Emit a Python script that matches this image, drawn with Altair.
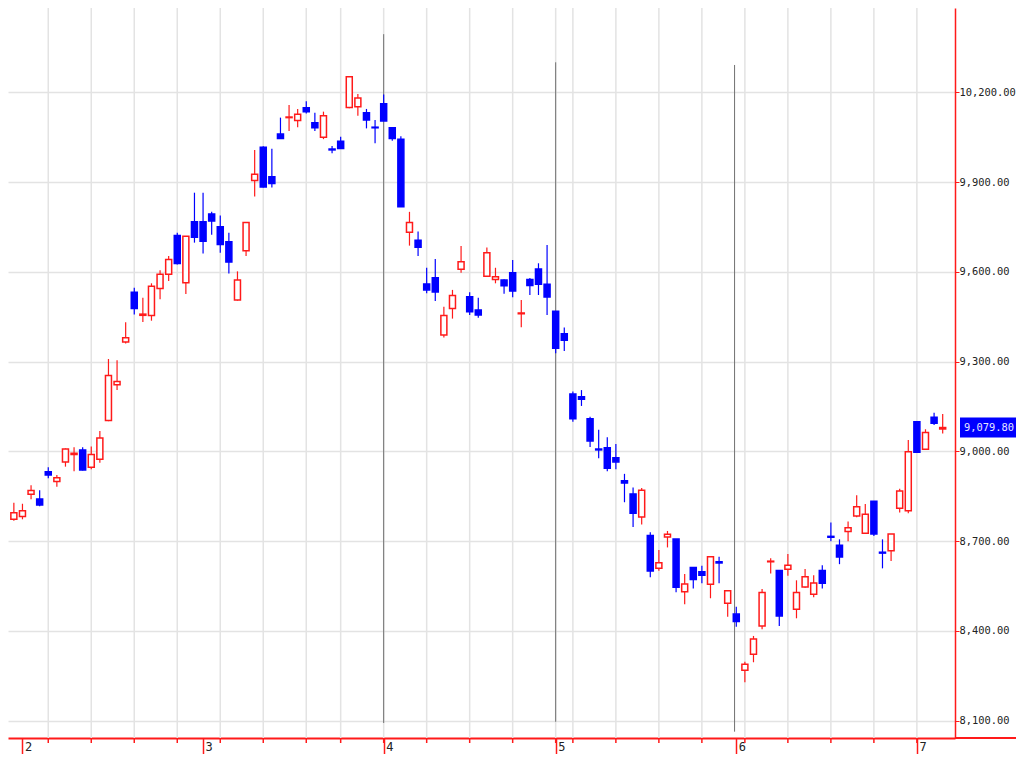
import altair as alt
import pandas as pd

# Daily OHLC values (trading-day index 0 .. 108)
opens = [8773, 8782, 8857, 8841, 8932, 8899, 8965, 8990, 9005, 8947,
         8974, 9103, 9223, 9366, 9532, 9455, 9454, 9545, 9592, 9722,
         9564, 9768, 9768, 9794, 9751, 9701, 9506, 9671, 9906, 10017,
         9918, 10061, 10116, 10106, 10149, 10099, 10050, 10011, 10037, 10150,
         10152, 10132, 10084, 10162, 10082, 10044, 9733, 9706, 9560, 9581,
         9389, 9478, 9609, 9517, 9473, 9586, 9575, 9573, 9597, 9460,
         9575, 9610, 9559, 9469, 9393, 9192, 9183, 9109, 9008, 9012,
         8979, 8902, 8858, 8781, 8719, 8609, 8714, 8707, 8531, 8612,
         8598, 8556, 8631, 8492, 8456, 8268, 8322, 8416, 8631, 8602,
         8606, 8472, 8547, 8522, 8602, 8716, 8686, 8732, 8784, 8726,
         8833, 8663, 8668, 8810, 8802, 9099, 9007, 9114, 9075]
highs = [8828, 8825, 8887, 8870, 8947, 8921, 9010, 9014, 9014, 9016,
         9068, 9309, 9305, 9432, 9547, 9514, 9562, 9606, 9653, 9731,
         9719, 9865, 9865, 9801, 9789, 9731, 9602, 9765, 10008, 10020,
         10012, 10116, 10158, 10145, 10171, 10132, 10136, 10021, 10052, 10253,
         10195, 10145, 10108, 10193, 10084, 10054, 9801, 9735, 9614, 9643,
         9484, 9540, 9687, 9532, 9514, 9682, 9614, 9576, 9640, 9506,
         9580, 9629, 9690, 9469, 9414, 9200, 9205, 9116, 9072, 9047,
         9025, 8925, 8879, 8878, 8730, 8670, 8734, 8707, 8590, 8612,
         8618, 8648, 8648, 8534, 8481, 8297, 8383, 8540, 8643, 8602,
         8657, 8569, 8607, 8586, 8619, 8762, 8706, 8766, 8853, 8824,
         8833, 8706, 8724, 8875, 9038, 9099, 9074, 9129, 9125]
lows = [8768, 8773, 8840, 8817, 8910, 8882, 8949, 8934, 8936, 8940,
        8962, 9101, 9205, 9361, 9458, 9433, 9437, 9509, 9570, 9625,
        9526, 9698, 9662, 9724, 9664, 9595, 9504, 9653, 9852, 9882,
        9882, 10046, 10071, 10084, 10130, 10071, 10044, 9997, 10013, 10147,
        10122, 10080, 10030, 10105, 10039, 9818, 9688, 9653, 9529, 9503,
        9381, 9444, 9597, 9456, 9447, 9586, 9562, 9527, 9515, 9415,
        9523, 9523, 9456, 9328, 9336, 9099, 9152, 9015, 8977, 8934,
        8940, 8830, 8747, 8756, 8579, 8601, 8679, 8529, 8489, 8542,
        8559, 8509, 8559, 8447, 8414, 8228, 8295, 8405, 8592, 8416,
        8584, 8442, 8544, 8512, 8542, 8700, 8623, 8700, 8780, 8724,
        8717, 8609, 8634, 8796, 8793, 8997, 9007, 9088, 9060]
closes = [8795, 8802, 8869, 8821, 8921, 8912, 9008, 8994, 8938, 8990,
          9045, 9254, 9234, 9380, 9478, 9459, 9552, 9592, 9642, 9628,
          9719, 9716, 9703, 9770, 9692, 9633, 9573, 9765, 9927, 9884,
          9896, 10046, 10118, 10127, 10136, 10082, 10122, 10008, 10013, 10253,
          10182, 10108, 10082, 10105, 10046, 9818, 9765, 9683, 9540, 9533,
          9454, 9521, 9634, 9467, 9456, 9664, 9584, 9554, 9536, 9463,
          9555, 9559, 9516, 9345, 9372, 9109, 9174, 9035, 9005, 8944,
          8965, 8894, 8793, 8870, 8600, 8628, 8723, 8546, 8557, 8572,
          8586, 8648, 8627, 8534, 8431, 8288, 8373, 8528, 8633, 8450,
          8619, 8528, 8581, 8560, 8559, 8713, 8647, 8745, 8815, 8790,
          8724, 8660, 8724, 8868, 8999, 8997, 9063, 9094, 9079.8]

# first trading day of each week (vertical grid lines / minor ticks)
week_idx = [4, 9, 14, 19, 24, 29, 34, 38, 43, 48, 53, 58, 63, 65, 70,
            75, 80, 85, 90, 95, 100, 105]
# first trading day of each month and its label
month_idx = [1, 22, 43, 63, 84, 105]
month_labels = ["2", "3", "4", "5", "6", "7"]
# dark vertical marker lines
event_idx = [43, 63, 83.8]
event_top = [10395, 10301, 10292]
event_bottom = [8092, 8096, 8063]
# price axis values
y_ticks = [8100, 8400, 8700, 9000, 9300, 9600, 9900, 10200]

W, H = 947, 730
MONO = "DejaVu Sans Mono"
RED = "#ff1a1a"
BLUE = "#0000ff"

df = pd.DataFrame({"i": list(range(len(opens))), "open": opens, "high": highs,
                   "low": lows, "close": closes})
df["dir"] = ["up" if c >= o else "down" for o, c in zip(opens, closes)]

weeks = pd.DataFrame({"i": week_idx})
events = pd.DataFrame({"i": event_idx, "top": event_top, "bottom": event_bottom})
last = pd.DataFrame({"v": [closes[-1]]})

label_expr = " : ".join(
    f"datum.value == {m} ? '{l}'" for m, l in zip(month_idx, month_labels)
) + " : ''"

xscale = alt.Scale(domain=[-0.1, 108.85], nice=False, zero=False)
yscale = alt.Scale(domain=[8041.8, 10482.5], nice=False, zero=False)

xaxis = alt.Axis(values=month_idx, labelExpr=label_expr, title=None, grid=False,
                 domainColor=RED, domainWidth=2, tickColor=RED, tickWidth=1.5,
                 tickSize=16, labelAlign="left", labelBaseline="top",
                 labelPadding=-13, labelOffset=2, labelFont=MONO, labelFontSize=12,
                 labelColor="#222222", labelFlush=False, labelOverlap=False)
yaxis = alt.Axis(orient="right", values=y_ticks, format=",.2f", title=None,
                 grid=True, gridColor="#e3e3e3", gridWidth=1.5,
                 domainColor=RED, domainWidth=1.5, tickColor=RED, tickSize=4,
                 labelPadding=0, labelFont=MONO, labelFontSize=10.4,
                 labelColor="#222222", labelFlush=False, labelOverlap=False)

dir_color = alt.Scale(domain=["up", "down"], range=[RED, BLUE])
dir_fill = alt.Scale(domain=["up", "down"], range=["#ffffff", BLUE])

base = alt.Chart(df)

grid_v = alt.Chart(weeks).mark_rule(color="#e3e3e3", strokeWidth=1.5, clip=True).encode(
    x=alt.X("i:Q", scale=xscale, axis=xaxis)
)

minor_ticks = alt.Chart(weeks).mark_rule(color=RED, strokeWidth=1.5).encode(
    x=alt.X("i:Q", scale=xscale),
    y=alt.value(H), y2=alt.value(H + 5)
)

axis_ext = alt.Chart(last).mark_rule(color=RED, strokeWidth=2).encode(
    x=alt.value(W), x2=alt.value(W + 80), y=alt.value(H)
)

event_lines = alt.Chart(events).mark_rule(color="#707070", strokeWidth=1, clip=True).encode(
    x=alt.X("i:Q", scale=xscale),
    y=alt.Y("top:Q", scale=yscale, axis=yaxis),
    y2="bottom:Q"
)

wicks = base.mark_rule(strokeWidth=1.2, clip=True).encode(
    x=alt.X("i:Q", scale=xscale),
    y=alt.Y("low:Q", scale=yscale),
    y2="high:Q",
    color=alt.Color("dir:N", scale=dir_color, legend=None)
)

bodies = base.mark_bar(size=6, strokeWidth=1.5, orient="vertical", clip=True).encode(
    x=alt.X("i:Q", scale=xscale),
    y=alt.Y("open:Q", scale=yscale),
    y2="close:Q",
    stroke=alt.Stroke("dir:N", scale=dir_color, legend=None),
    fill=alt.Fill("dir:N", scale=dir_fill, legend=None)
)

box_path = "M-1,-0.294 L1,-0.294 L1,0.294 L-1,0.294 Z"
price_box = alt.Chart(last).mark_point(shape=box_path, filled=True, color=BLUE,
                                       opacity=1, size=4624).encode(
    x=alt.value(W + 39), y=alt.Y("v:Q", scale=yscale)
)
price_text = alt.Chart(last).mark_text(font=MONO, fontSize=10.4, color="#e6e6ff",
                                       align="left", baseline="middle").encode(
    x=alt.value(W + 9), y=alt.Y("v:Q", scale=yscale),
    text=alt.Text("v:Q", format=",.2f")
)

chart = alt.layer(
    grid_v, event_lines, wicks, bodies, minor_ticks, axis_ext, price_box, price_text
).properties(
    width=W, height=H,
    autosize=alt.AutoSizeParams(type="none"),
    padding={"left": 0, "top": 0, "right": 61, "bottom": 16},
    background="#ffffff"
).configure_view(strokeWidth=0)

chart.save("out.html", embed_options={"renderer": "svg", "actions": False})
